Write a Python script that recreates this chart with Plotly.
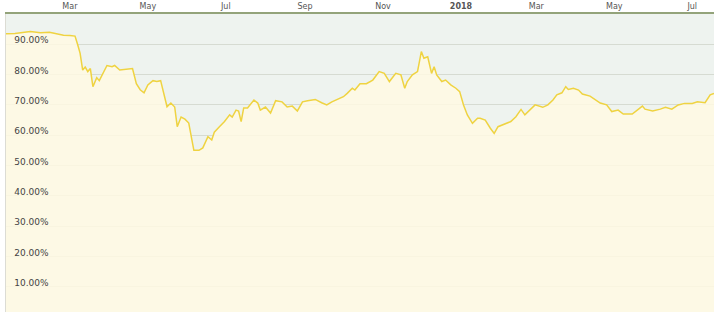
import plotly.graph_objects as go

dates = [
    "2017-01-10", "2017-01-17", "2017-01-29", "2017-02-06", "2017-02-13", "2017-02-19",
    "2017-02-24", "2017-03-01", "2017-03-05", "2017-03-07", "2017-03-09", "2017-03-11",
    "2017-03-13", "2017-03-15", "2017-03-17", "2017-03-19", "2017-03-22", "2017-03-24",
    "2017-03-27", "2017-03-30", "2017-04-03", "2017-04-05", "2017-04-09", "2017-04-14",
    "2017-04-19", "2017-04-22", "2017-04-25", "2017-04-28", "2017-05-01", "2017-05-05",
    "2017-05-08", "2017-05-11", "2017-05-13", "2017-05-16", "2017-05-19", "2017-05-22",
    "2017-05-24", "2017-05-27", "2017-05-30", "2017-06-02", "2017-06-06", "2017-06-10",
    "2017-06-13", "2017-06-17", "2017-06-20", "2017-06-22", "2017-06-26", "2017-06-30",
    "2017-07-04", "2017-07-06", "2017-07-09", "2017-07-11", "2017-07-13", "2017-07-15",
    "2017-07-18", "2017-07-23", "2017-07-26", "2017-07-28", "2017-08-01", "2017-08-05",
    "2017-08-09", "2017-08-14", "2017-08-18", "2017-08-22", "2017-08-26", "2017-08-30",
    "2017-09-03", "2017-09-09", "2017-09-14", "2017-09-18", "2017-09-22", "2017-09-27",
    "2017-10-01", "2017-10-04", "2017-10-08", "2017-10-10", "2017-10-14", "2017-10-19",
    "2017-10-24", "2017-10-29", "2017-11-02", "2017-11-06", "2017-11-08", "2017-11-11",
    "2017-11-15", "2017-11-18", "2017-11-20", "2017-11-24", "2017-11-28", "2017-12-01",
    "2017-12-03", "2017-12-06", "2017-12-09", "2017-12-11", "2017-12-13", "2017-12-17",
    "2017-12-20", "2017-12-24", "2017-12-28", "2017-12-31", "2018-01-03", "2018-01-06",
    "2018-01-10", "2018-01-14", "2018-01-16", "2018-01-20", "2018-01-24", "2018-01-27",
    "2018-01-30", "2018-02-03", "2018-02-09", "2018-02-13", "2018-02-17", "2018-02-20",
    "2018-02-24", "2018-02-28", "2018-03-06", "2018-03-10", "2018-03-14", "2018-03-17",
    "2018-03-21", "2018-03-24", "2018-03-26", "2018-03-30", "2018-04-03", "2018-04-06",
    "2018-04-12", "2018-04-16", "2018-04-20", "2018-04-25", "2018-04-29", "2018-05-04",
    "2018-05-08", "2018-05-15", "2018-05-19", "2018-05-23", "2018-05-25", "2018-05-31",
    "2018-06-06", "2018-06-10", "2018-06-15", "2018-06-20", "2018-06-25", "2018-07-01",
    "2018-07-05", "2018-07-11", "2018-07-15", "2018-07-18",
]
dominance = [
    93.5, 93.6, 94.2, 93.8, 94.0, 93.5,
    93.0, 92.9, 92.7, 90.0, 87.0, 81.5,
    82.5, 81.0, 82.0, 76.0, 79.0, 78.0,
    80.5, 83.0, 82.6, 83.0, 81.5, 81.8,
    82.0, 77.0, 75.0, 74.0, 76.6, 78.0,
    77.7, 78.0, 74.4, 69.4, 70.6, 69.3,
    62.8, 66.0, 65.3, 64.0, 55.0, 55.0,
    55.8, 59.5, 58.4, 61.0, 62.8, 64.5,
    66.7, 66.0, 68.3, 68.0, 64.5, 69.0,
    69.0, 71.6, 70.6, 68.3, 69.3, 67.3,
    71.4, 71.0, 69.3, 69.6, 68.0, 71.0,
    71.4, 71.8, 70.7, 70.0, 71.0, 71.8,
    72.7, 73.8, 75.5, 74.9, 77.0, 77.0,
    78.2, 81.0, 80.4, 77.7, 78.8, 80.4,
    79.9, 75.5, 77.7, 79.9, 81.0, 87.6,
    85.4, 85.9, 80.4, 82.6, 79.9, 77.7,
    78.2, 76.6, 75.5, 74.4, 70.0, 66.7,
    63.9, 65.6, 65.6, 65.0, 62.3, 60.6,
    62.8, 63.4, 64.5, 66.1, 68.5, 66.7,
    68.3, 70.0, 69.2, 70.0, 71.6, 73.3,
    74.0, 76.0, 75.1, 75.5, 74.9, 73.6,
    72.9, 71.6, 70.6, 70.0, 67.8, 68.3,
    67.0, 67.0, 68.3, 69.6, 68.6, 68.0,
    68.6, 69.2, 68.6, 70.0, 70.5, 70.5,
    71.0, 70.7, 73.3, 73.8,
]

month_ticks = ["2017-03-01", "2017-05-01", "2017-07-01", "2017-09-01", "2017-11-01",
               "2018-01-01", "2018-03-01", "2018-05-01", "2018-07-01"]
month_labels = ["Mar", "May", "Jul", "Sep", "Nov", "<b>2018</b>", "Mar", "May", "Jul"]

y_ticks = [10, 20, 30, 40, 50, 60, 70, 80, 90]
y_labels = ["%.2f%%" % v for v in y_ticks]

fig = go.Figure()
fig.add_trace(go.Scatter(
    x=dates, y=dominance, mode="lines",
    line=dict(color="#efd341", width=1.5),
    fill="tozeroy", fillcolor="rgba(255,250,226,0.84)",
    hoverinfo="skip",
))

fig.update_layout(
    width=720, height=312,
    margin=dict(l=6, r=6, t=14, b=0),
    paper_bgcolor="white",
    plot_bgcolor="#eef3ef",
    showlegend=False,
    font=dict(family="DejaVu Sans", size=9, color="#444"),
    xaxis=dict(
        side="top", type="date",
        range=["2017-01-10", "2018-07-18"],
        tickvals=month_ticks, ticktext=month_labels,
        tickfont=dict(size=8, color="#555"),
        showgrid=False, zeroline=False,
        showline=True, linecolor="#93a37a", linewidth=1.5,
        ticks="", ticklen=0, ticklabelstandoff=0,
    ),
    yaxis=dict(
        range=[1.65, 100],
        tickvals=y_ticks, ticktext=y_labels,
        ticklabelposition="inside", ticklabelshift=-4, ticklabelstandoff=7,
        tickfont=dict(size=9, color="#444"),
        showgrid=True, gridcolor="#d6dbd2", gridwidth=1,
        zeroline=False,
        showline=True, linecolor="#dcdcd4", linewidth=1,
        ticks="", ticklen=0,
    ),
)

fig.write_html("out.html")
